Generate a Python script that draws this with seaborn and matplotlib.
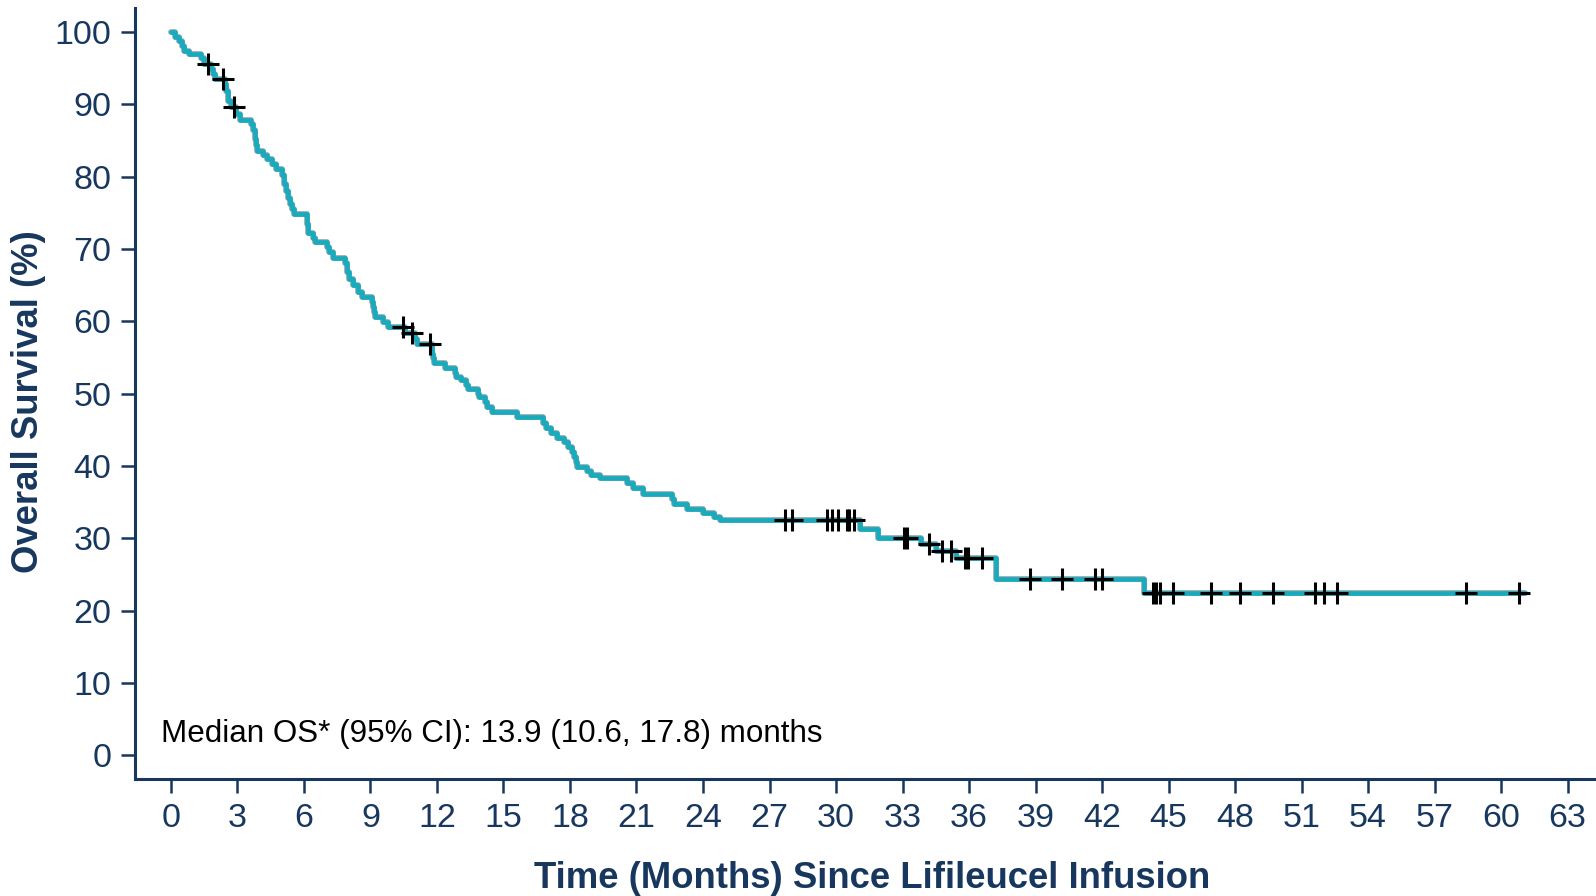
import numpy as np
import pandas as pd
import matplotlib
matplotlib.use("Agg")
import matplotlib.pyplot as plt
import matplotlib.patheffects as pe
import seaborn as sns

# Kaplan-Meier step points: event time (months) and survival (%) after the event
event_months = [0.00, 0.20, 0.35, 0.50, 0.60, 0.80, 1.35, 1.50, 1.80, 1.90, 2.00, 2.42, 2.50, 2.58,
                2.70, 2.95, 3.10, 3.60, 3.70, 3.80, 3.85, 3.90, 4.15, 4.35, 4.55, 4.75, 5.00, 5.10,
                5.20, 5.28, 5.35, 5.45, 5.55, 6.15, 6.20, 6.40, 6.50, 7.05, 7.15, 7.30, 7.85, 7.95,
                8.05, 8.20, 8.45, 8.60, 9.05, 9.12, 9.18, 9.22, 9.55, 9.80, 10.56, 11.00, 11.10,
                11.76, 11.80, 11.85, 12.36, 12.80, 12.85, 13.10, 13.30, 13.40, 13.86, 13.90, 14.15,
                14.25, 14.50, 15.60, 16.80, 16.90, 17.15, 17.40, 17.75, 17.90, 18.10, 18.20, 18.25,
                18.30, 18.75, 18.95, 19.35, 20.55, 20.85, 21.30, 22.60, 22.70, 23.30, 24.00, 24.50,
                24.75, 31.10, 31.90, 33.85, 34.50, 35.40, 37.20, 43.90]
survival_pct = [100.0, 99.3, 98.7, 98.0, 97.4, 97.0, 96.4, 95.6, 94.9, 94.2, 93.5, 92.8, 91.8, 90.5,
                89.6, 88.6, 87.8, 87.2, 86.5, 85.2, 84.4, 83.6, 83.0, 82.4, 81.8, 81.0, 80.2, 79.0,
                78.0, 77.0, 76.2, 75.5, 74.8, 73.5, 72.2, 71.5, 71.0, 70.3, 69.6, 68.8, 68.0, 66.8,
                65.8, 65.0, 64.1, 63.4, 62.7, 62.0, 61.3, 60.6, 59.9, 59.2, 58.4, 57.6, 56.9,
                55.5, 54.9, 54.2, 53.5, 52.8, 52.3, 51.9, 51.2, 50.7, 49.9, 49.6, 48.9,
                48.2, 47.4, 46.7, 45.9, 45.2, 44.6, 43.9, 43.3, 42.6, 41.9, 41.2, 40.5,
                39.9, 39.3, 38.8, 38.4, 37.7, 36.9, 36.1, 35.4, 34.8, 34.1, 33.5, 33.0,
                32.5, 31.3, 30.1, 29.2, 28.2, 27.3, 24.4, 22.5]

# Censored observations (months)
censor_months = [1.68, 2.36, 2.84, 10.48, 10.86, 11.68, 27.7, 28.0, 29.6, 29.8, 30.1, 30.5, 30.6,
                 30.8, 33.05, 33.2, 34.2, 34.8, 35.2, 35.8, 35.96, 36.6, 38.75, 40.2, 41.7, 42.0,
                 44.3, 44.45, 44.6, 45.2, 46.9, 48.2, 49.7, 51.6, 52.0, 52.6, 58.4, 60.8]
last_followup = 61.1

x_ticks = list(range(0, 64, 3))
y_ticks = list(range(0, 101, 10))
median_text = "Median OS* (95% CI): 13.9 (10.6, 17.8) months"

navy = "#17375E"
teal = "#19AABD"

# Step curve extended to the end of follow-up
curve = pd.DataFrame({
    "month": event_months + [last_followup],
    "surv": survival_pct + [survival_pct[-1]],
})
ev = np.asarray(event_months)
sv = np.asarray(survival_pct)
idx = np.searchsorted(ev, np.asarray(censor_months), side="right") - 1
censored = pd.DataFrame({"month": censor_months, "surv": sv[idx]})

sns.set_theme(style="ticks")
plt.rcParams["font.family"] = ["Liberation Sans", "DejaVu Sans"]

fig = plt.figure(figsize=(15.96, 8.96), dpi=100)
ax = fig.add_axes([135 / 1596, 1 - 779 / 896, 1 - 135 / 1596, (779 - 8) / 896])

sns.lineplot(data=curve, x="month", y="surv", ax=ax, estimator=None, sort=False,
             drawstyle="steps-post", color=teal, linewidth=3.3,
             path_effects=[pe.Stroke(linewidth=4.1, foreground="#8FA7AD"), pe.Normal()])
sns.scatterplot(data=censored, x="month", y="surv", ax=ax, marker="+", s=240,
                color="black", linewidth=2.2, zorder=5)

ax.set_xlim(-1.62, 64.28)
ax.set_ylim(-3.27, 103.3)
ax.set_xticks(x_ticks)
ax.set_yticks(y_ticks)

for side in ("top", "right"):
    ax.spines[side].set_visible(False)
for side in ("left", "bottom"):
    ax.spines[side].set_color(navy)
    ax.spines[side].set_linewidth(2.2)

ax.tick_params(axis="both", direction="out", length=10, width=1.8, color=navy,
               labelcolor=navy, labelsize=24.5, pad=7)

ax.set_xlabel("Time (Months) Since Lifileucel Infusion", fontsize=26.3, fontweight="bold",
              color=navy)
ax.set_ylabel("Overall Survival (%)", fontsize=26.3, fontweight="bold", color=navy)
ax.xaxis.set_label_coords(0.5045, -0.107)
ax.yaxis.set_label_coords(-0.061, 0.489)

ax.text(-0.45, 3.0, median_text, fontsize=22.6, color="black", ha="left", va="center")

fig.savefig("out.png", dpi=100)
